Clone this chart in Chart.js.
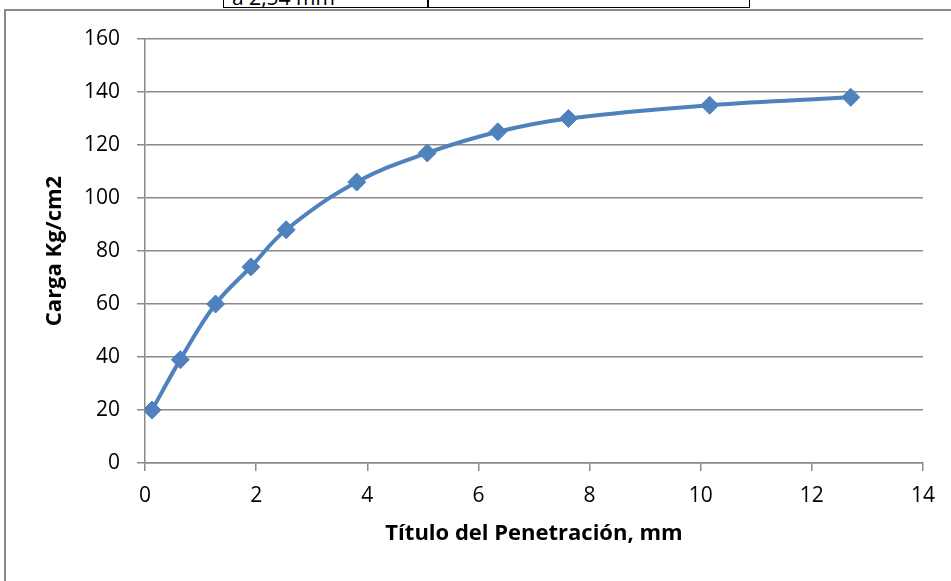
<!DOCTYPE html>
<html>
<head>
<meta charset="utf-8">
<script src="https://cdn.jsdelivr.net/npm/chart.js@4.4.1/dist/chart.umd.min.js"></script>
<style>
  body { margin: 0; background: #fff; }
  #lienzo { position: relative; width: 951px; height: 581px; overflow: hidden; background: #fff; }
  #marco { position: absolute; left: 4px; top: 9px; width: 1000px; height: 700px; border-left: 2px solid #8a8a8a; border-top: 2px solid #8a8a8a; }
  .celda { position: absolute; top: -30px; height: 37px; border: 1px solid #000; border-top: none; }
  .celda span { position: absolute; left: 8px; bottom: -4px; font: 21px "Open Sans", sans-serif; color: #000; }
  #grafico { position: absolute; left: 0; top: 0; }
</style>
</head>
<body>
<div id="lienzo">
  <div class="celda" style="left:223px; width:204px;"><span>a 2,54 mm</span></div>
  <div class="celda" style="left:427px; width:321px;"></div>
  <div id="marco"></div>
  <canvas id="grafico" width="951" height="581"></canvas>
</div>
<script>
// Datos
let penetracion = [0.127, 0.635, 1.27, 1.905, 2.54, 3.81, 5.08, 6.35, 7.62, 10.16, 12.7]
let carga = [20, 39, 60, 74, 88, 106, 117, 125, 130, 135, 138]

let ticksX = [0, 2, 4, 6, 8, 10, 12, 14]
let ticksY = [0, 20, 40, 60, 80, 100, 120, 140, 160]

let tituloX = 'Título del Penetración, mm'
let tituloY = 'Carga Kg/cm2'

let puntos = []
for (var i = 0; i < penetracion.length; i++) {
    puntos.push({ x: penetracion[i], y: carga[i] })
}

let azul = '#4F81BD'
let gris = '#8a8a8a'
let fuente = { family: '"Open Sans", sans-serif', size: 21 }
let fuenteTitulo = { family: '"Open Sans", sans-serif', size: 22, weight: 'bold' }

let graficoCarga = document.getElementById('grafico')

const chart = new Chart(graficoCarga, {
    type: 'line',
    data: {
        datasets: [
            {
                data: puntos,
                borderColor: azul,
                backgroundColor: azul,
                borderWidth: 4,
                tension: 0.4,
                pointStyle: 'rectRot',
                pointRadius: 9,
                pointBorderWidth: 1,
                pointBackgroundColor: azul,
                pointBorderColor: azul,
                fill: false,
            },
        ],
    },
    options: {
        responsive: false,
        animation: false,
        layout: {
            padding: { left: 0, top: 39, right: 28, bottom: 0 },
        },
        plugins: {
            legend: { display: false },
            tooltip: { enabled: false },
        },
        scales: {
            x: {
                type: 'linear',
                min: 0,
                max: 14,
                afterBuildTicks: (eje) => { eje.ticks = ticksX.map(v => ({ value: v })) },
                afterFit: (eje) => { eje.height = 118 },
                ticks: { font: fuente, color: '#000', padding: 12, maxRotation: 0 },
                grid: { drawOnChartArea: false, drawTicks: true, tickLength: 8, color: gris, lineWidth: 1.5 },
                border: { display: true, color: gris, width: 1.5 },
                title: { display: true, text: tituloX, font: fuenteTitulo, color: '#000', padding: { top: 0, bottom: 34 } },
            },
            y: {
                min: 0,
                max: 160,
                afterBuildTicks: (eje) => { eje.ticks = ticksY.map(v => ({ value: v })) },
                afterFit: (eje) => { eje.width = 145 },
                ticks: { font: fuente, color: '#000', padding: 17 },
                grid: { drawTicks: true, tickLength: 8, color: gris, lineWidth: 1.5 },
                border: { display: true, color: gris, width: 1.5 },
                title: { display: true, text: tituloY, font: fuenteTitulo, color: '#000', padding: { top: 42, bottom: 0 } },
            },
        },
    },
})
</script>
</body>
</html>
